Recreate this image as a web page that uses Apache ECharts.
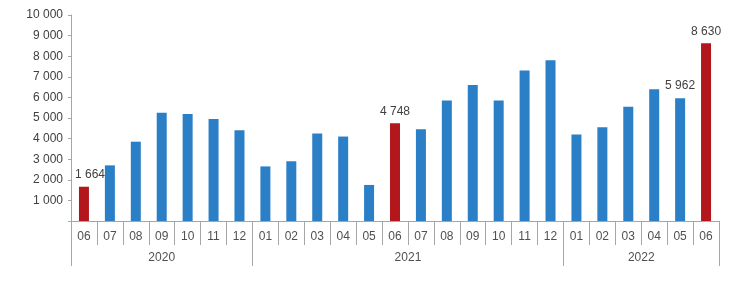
<!DOCTYPE html>
<html>
<head>
<meta charset="utf-8">
<script src="https://cdn.jsdelivr.net/npm/echarts@6/dist/echarts.min.js"></script>
<style>html,body{margin:0;padding:0;background:#fff;}#c{width:740px;height:287px;}</style>
</head>
<body>
<div id="c"></div>
<script>
const months = ['06','07','08','09','10','11','12','01','02','03','04','05','06','07','08','09','10','11','12','01','02','03','04','05','06'];
const values = [1664,2700,3850,5250,5200,4950,4400,2650,2900,4250,4100,1750,4748,4450,5850,6600,5850,7300,7800,4200,4550,5550,6400,5962,8630];
const years = ['2020','2021','2022'];
const monthsPerYear = [7,12,6];
const highlighted = [0,12,24];
const labeled = [0,12,23,24];

const fmt = v => String(v).replace(/\B(?=(\d{3})+(?!\d))/g, ' ');

// year axis built on half-month slots
const nSlots = months.length * 2 + 1;
const yearSlots = new Array(nSlots).fill('');
const boundarySlots = [0];
let acc = 0;
years.forEach((y, i) => {
  const start = acc;
  acc += monthsPerYear[i];
  yearSlots[start + acc] = y;
  boundarySlots.push(acc * 2);
});

const barData = values.map((v, i) => ({
  value: v,
  itemStyle: { color: highlighted.includes(i) ? '#b3171c' : '#2b7fc6' },
  label: { show: labeled.includes(i), offset: i === 0 ? [6, 0] : [0, 0] }
}));

const chart = echarts.init(document.getElementById('c'));
chart.setOption({
  animation: false,
  grid: { left: 71, right: 21, top: 15, bottom: 66 },
  xAxis: [
    {
      type: 'category',
      data: months,
      position: 'bottom',
      axisLine: { show: true, lineStyle: { color: '#a6a6a6' } },
      axisTick: { show: true, interval: 0, length: 24, lineStyle: { color: '#a6a6a6' } },
      axisLabel: { interval: 0, margin: 10, fontSize: 12, color: '#505050', fontFamily: 'Liberation Sans' }
    },
    {
      type: 'category',
      data: yearSlots,
      boundaryGap: false,
      position: 'bottom',
      axisLine: { show: false },
      axisTick: { show: true, length: 45, interval: (idx) => boundarySlots.includes(idx), lineStyle: { color: '#a6a6a6' } },
      axisLabel: { interval: 0, margin: 31, fontSize: 12, color: '#505050', fontFamily: 'Liberation Sans' },
      splitLine: { show: false }
    }
  ],
  yAxis: {
    type: 'value',
    min: 0, max: 10000, interval: 1000,
    axisLine: { show: true, lineStyle: { color: '#a6a6a6' } },
    axisTick: { show: true, length: 3, lineStyle: { color: '#a6a6a6' } },
    splitLine: { show: false },
    axisLabel: { margin: 8, fontSize: 12, color: '#404040', fontFamily: 'Liberation Sans', formatter: v => v === 0 ? '' : fmt(v) }
  },
  series: [{
    type: 'bar',
    xAxisIndex: 0,
    data: barData,
    barWidth: 10,
    label: { position: 'top', distance: 6, fontSize: 12, color: '#404040', fontFamily: 'Liberation Sans', formatter: p => fmt(p.value) }
  }]
});
</script>
</body>
</html>
